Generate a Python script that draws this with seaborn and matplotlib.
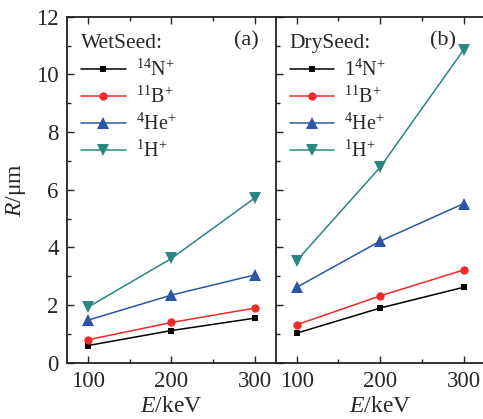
import matplotlib
matplotlib.use("Agg")
import matplotlib.pyplot as plt
import seaborn as sns
import pandas as pd
from matplotlib.ticker import MultipleLocator

energy = [100, 200, 300]
series = ["N", "B", "He", "H"]
wet_N = [0.60, 1.12, 1.55]
wet_B = [0.80, 1.40, 1.90]
wet_He = [1.48, 2.35, 3.05]
wet_H = [1.93, 3.62, 5.72]
dry_N = [1.03, 1.90, 2.62]
dry_B = [1.32, 2.32, 3.22]
dry_He = [2.62, 4.22, 5.52]
dry_H = [3.54, 6.78, 10.85]

wet_labels = [r"$^{14}$N$^{+}$", r"$^{11}$B$^{+}$", r"$^{4}$He$^{+}$", r"$^{1}$H$^{+}$"]
dry_labels = [r"1$^{4}$N$^{+}$", r"$^{11}$B$^{+}$", r"$^{4}$He$^{+}$", r"$^{1}$H$^{+}$"]

colors = ["#000000", "#ee2a2a", "#2a56a8", "#2a8585"]
markers = ["s", "o", "^", "v"]
msizes = [5, 6, 8, 8]

sns.set_theme(style="ticks")
plt.rcParams["font.family"] = ["Liberation Serif", "DejaVu Serif"]
plt.rcParams["mathtext.fontset"] = "custom"
plt.rcParams["mathtext.rm"] = "Liberation Serif"
plt.rcParams["mathtext.it"] = "Liberation Serif:italic"

fig = plt.figure(figsize=(4.83, 4.19), dpi=100)
ax1 = fig.add_axes([0.139, 0.134, 0.432, 0.826])
ax2 = fig.add_axes([0.571, 0.134, 0.432, 0.826])

def make_df(vals, labels):
    rows = []
    for s, lab, v in zip(series, labels, vals):
        for e, y in zip(energy, v):
            rows.append({"E": e, "R": y, "ion": lab})
    return pd.DataFrame(rows)

panels = [
    (ax1, [wet_N, wet_B, wet_He, wet_H], wet_labels, "WetSeed:", "(a)", 0.86),
    (ax2, [dry_N, dry_B, dry_He, dry_H], dry_labels, "DrySeed:", "(b)", 0.80),
]

for ax, vals, labels, title, tag, tx in panels:
    df = make_df(vals, labels)
    for i, lab in enumerate(labels):
        sub = df[df["ion"] == lab]
        sns.lineplot(data=sub, x="E", y="R", ax=ax, color=colors[i], marker=markers[i],
                     markersize=msizes[i], markeredgewidth=0, linewidth=1.1, label=lab)
    ax.set_xlim(75, 325)
    ax.set_ylim(0, 12)
    ax.xaxis.set_major_locator(MultipleLocator(100))
    ax.xaxis.set_minor_locator(MultipleLocator(50))
    ax.yaxis.set_major_locator(MultipleLocator(2))
    ax.yaxis.set_minor_locator(MultipleLocator(1))
    ax.tick_params(which="both", direction="in", top=True, labelsize=16.5, pad=6)
    ax.tick_params(which="major", length=5, width=1)
    ax.tick_params(which="minor", length=3, width=1)
    ax.set_xlabel(r"$E$/keV", fontsize=17, labelpad=3)
    for sp in ax.spines.values():
        sp.set_linewidth(1.3)
        sp.set_color("#222222")
    leg = ax.legend(loc="upper left", frameon=False, title=title, fontsize=14.5,
                    title_fontsize=15.5, handlelength=2.2, borderaxespad=0.3,
                    labelspacing=0.3, handletextpad=0.5, bbox_to_anchor=(0.0, 0.99))
    leg._legend_box.align = "left"
    ax.text(tx, 0.93, tag, transform=ax.transAxes, fontsize=16, ha="center", va="center")

ax1.set_ylabel(r"$R$/μm", fontsize=17, labelpad=6)
ax1.spines["right"].set_visible(False)
ax2.set_ylabel("")
ax2.tick_params(axis="y", which="both", labelleft=False)
ax2.spines["right"].set_visible(False)

fig.savefig("out.png", dpi=100)
